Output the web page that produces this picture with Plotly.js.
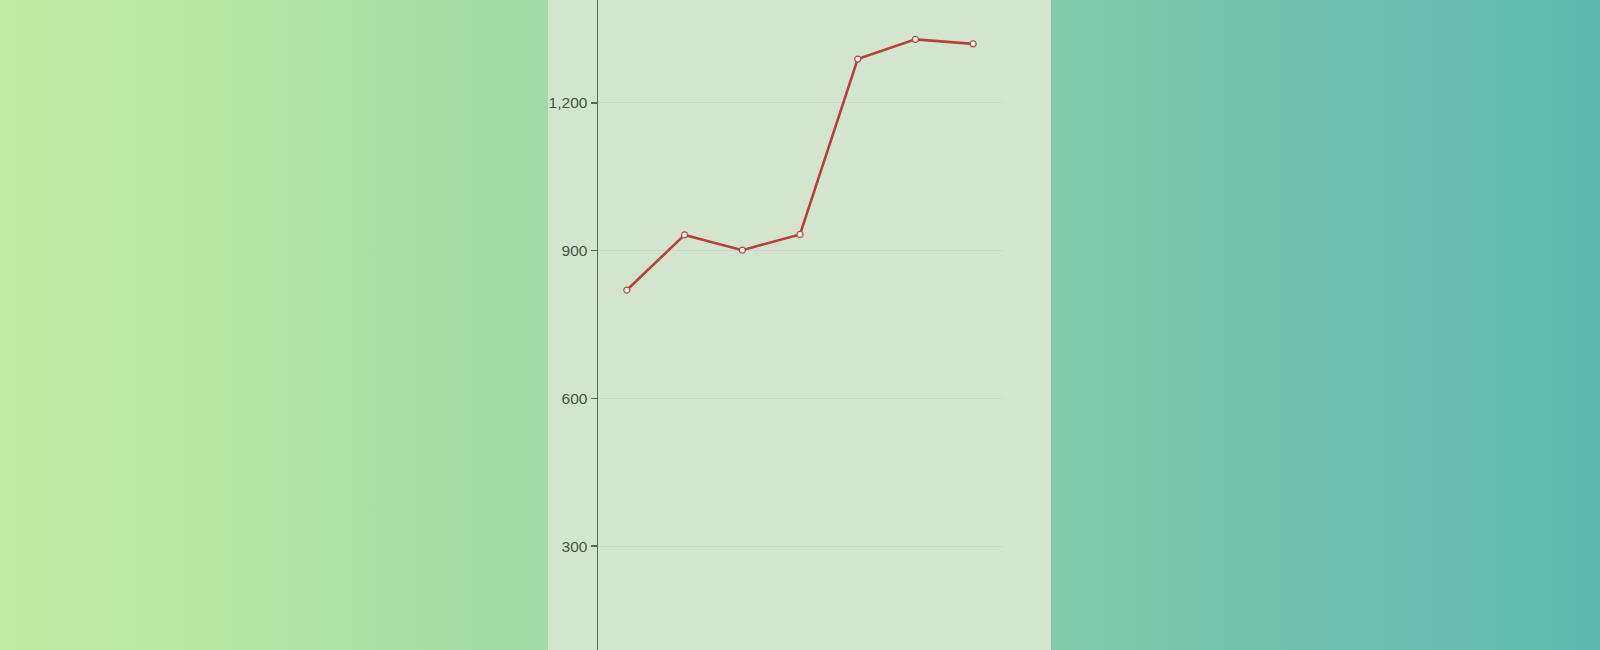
<!DOCTYPE html>
<html>
<head>
<meta charset="utf-8">
<script src="https://cdn.plot.ly/plotly-3.0.1.min.js"></script>
<style>
    html, body {
        margin: 0;
        padding: 0;
        width: 1600px;
        height: 650px;
        overflow: hidden;
        background: linear-gradient(to right, #c4eda3 0%, #5fb8b0 100%);
    }
    #chart {
        position: absolute;
        left: 548px;
        top: 0;
        width: 503px;
        height: 650px;
        box-shadow: 1px 0 0 #8cbf9c;
    }
</style>
</head>
<body>
<div id="chart"></div>
<script>
// values
var categories = ["1", "2", "3", "4", "5", "6", "7"];
var values = [820, 932, 901, 933, 1289, 1329, 1320];
var y_ticks = [300, 600, 900, 1200];

var line1 = {
    x: categories,
    y: values,
    type: 'scatter',
    mode: 'lines+markers',
    line: { color: '#b9403a', width: 2.6 },
    marker: {
        size: 6,
        color: '#ffffff',
        line: { color: '#b9403a', width: 1.2 }
    },
    hoverinfo: 'y'
};

var layout = {
    width: 503,
    height: 650,
    margin: { l: 50, r: 49, t: 0, b: 0, pad: 0 },
    paper_bgcolor: '#d3e6cd',
    plot_bgcolor: 'rgba(0,0,0,0)',
    showlegend: false,
    font: { family: 'Liberation Sans, Arial, sans-serif', size: 15.5, color: '#455446' },
    xaxis: {
        type: 'category',
        range: [-0.5, 6.5],
        showgrid: false,
        showline: false,
        zeroline: false,
        showticklabels: false,
        ticks: ''
    },
    yaxis: {
        range: [89, 1409],
        tickvals: y_ticks,
        tickformat: ',d',
        showgrid: true,
        gridcolor: '#c6d9d6',
        gridwidth: 1,
        zeroline: false,
        showline: true,
        linecolor: '#56695a',
        linewidth: 1.5,
        ticks: 'outside',
        ticklen: 6,
        tickwidth: 1.2,
        tickcolor: '#56695a',
        automargin: false
    }
};

Plotly.newPlot('chart', [line1], layout, { displayModeBar: false, staticPlot: true });
</script>
</body>
</html>
